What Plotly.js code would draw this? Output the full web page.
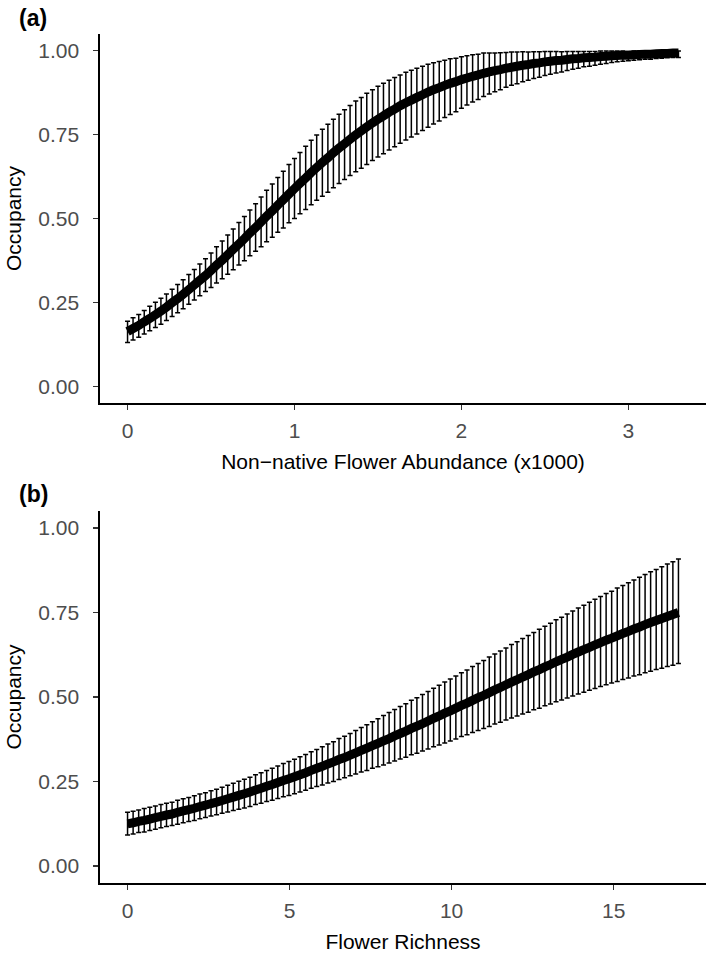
<!DOCTYPE html>
<html>
<head>
<meta charset="utf-8">
<script src="https://cdn.plot.ly/plotly-3.0.1.min.js"></script>
<style>
  html, body { margin: 0; padding: 0; background: #fff; }
  #plot { width: 709px; height: 958px; }
</style>
</head>
<body>
<div id="plot"></div>
<script>
// panel (a): occupancy vs non-native flower abundance (x1000)
var abundX = [0, 0.033, 0.067, 0.1, 0.133, 0.167, 0.2, 0.233, 0.267, 0.3,
  0.333, 0.367, 0.4, 0.433, 0.467, 0.5, 0.533, 0.567, 0.6, 0.633,
  0.667, 0.7, 0.733, 0.767, 0.8, 0.833, 0.867, 0.9, 0.933, 0.967,
  1, 1.033, 1.067, 1.1, 1.133, 1.167, 1.2, 1.233, 1.267, 1.3,
  1.333, 1.367, 1.4, 1.433, 1.467, 1.5, 1.533, 1.567, 1.6, 1.633,
  1.667, 1.7, 1.733, 1.767, 1.8, 1.833, 1.867, 1.9, 1.933, 1.967,
  2, 2.033, 2.067, 2.1, 2.133, 2.167, 2.2, 2.233, 2.267, 2.3,
  2.333, 2.367, 2.4, 2.433, 2.467, 2.5, 2.533, 2.567, 2.6, 2.633,
  2.667, 2.7, 2.733, 2.767, 2.8, 2.833, 2.867, 2.9, 2.933, 2.967,
  3, 3.033, 3.067, 3.1, 3.133, 3.167, 3.2, 3.233, 3.267, 3.3];

var abundMean = [0.163, 0.172, 0.181, 0.192, 0.202, 0.213, 0.224, 0.236, 0.249, 0.261,
  0.274, 0.288, 0.302, 0.316, 0.330, 0.345, 0.361, 0.376, 0.392, 0.408,
  0.424, 0.440, 0.457, 0.473, 0.490, 0.507, 0.523, 0.540, 0.556, 0.573,
  0.589, 0.605, 0.621, 0.637, 0.652, 0.667, 0.681, 0.696, 0.710, 0.723,
  0.736, 0.749, 0.761, 0.773, 0.785, 0.796, 0.806, 0.817, 0.826, 0.836,
  0.845, 0.853, 0.861, 0.869, 0.877, 0.884, 0.890, 0.897, 0.903, 0.908,
  0.914, 0.919, 0.924, 0.928, 0.933, 0.937, 0.941, 0.944, 0.948, 0.951,
  0.954, 0.957, 0.959, 0.962, 0.964, 0.967, 0.969, 0.971, 0.972, 0.974,
  0.976, 0.977, 0.979, 0.980, 0.981, 0.983, 0.984, 0.985, 0.986, 0.987,
  0.987, 0.988, 0.989, 0.990, 0.990, 0.991, 0.992, 0.992, 0.993, 0.993];

// distance from the line to the top / bottom of each error bar
var abundErrUp = [0.031, 0.032, 0.033, 0.034, 0.036, 0.037, 0.038, 0.039, 0.040, 0.042,
  0.043, 0.045, 0.046, 0.048, 0.050, 0.052, 0.055, 0.057, 0.059, 0.061,
  0.064, 0.066, 0.068, 0.071, 0.074, 0.077, 0.080, 0.082, 0.085, 0.088,
  0.090, 0.092, 0.094, 0.096, 0.097, 0.099, 0.100, 0.100, 0.101, 0.101,
  0.101, 0.101, 0.100, 0.100, 0.099, 0.098, 0.097, 0.095, 0.094, 0.092,
  0.091, 0.089, 0.087, 0.085, 0.083, 0.080, 0.078, 0.075, 0.073, 0.070,
  0.068, 0.066, 0.064, 0.062, 0.060, 0.056, 0.052, 0.050, 0.047, 0.045,
  0.042, 0.040, 0.037, 0.035, 0.033, 0.031, 0.029, 0.027, 0.025, 0.024,
  0.022, 0.021, 0.019, 0.018, 0.017, 0.016, 0.015, 0.014, 0.013, 0.012,
  0.011, 0.011, 0.010, 0.009, 0.009, 0.008, 0.008, 0.007, 0.007, 0.006];

var abundErrDown = [0.033, 0.034, 0.035, 0.036, 0.037, 0.038, 0.039, 0.040, 0.041, 0.042,
  0.043, 0.044, 0.045, 0.046, 0.048, 0.051, 0.053, 0.056, 0.058, 0.061,
  0.063, 0.066, 0.068, 0.071, 0.074, 0.076, 0.079, 0.081, 0.084, 0.086,
  0.089, 0.091, 0.094, 0.096, 0.098, 0.101, 0.103, 0.104, 0.106, 0.107,
  0.108, 0.110, 0.111, 0.112, 0.112, 0.113, 0.113, 0.113, 0.112, 0.112,
  0.111, 0.110, 0.109, 0.107, 0.105, 0.102, 0.099, 0.096, 0.093, 0.090,
  0.085, 0.081, 0.077, 0.073, 0.069, 0.066, 0.063, 0.060, 0.057, 0.054,
  0.052, 0.049, 0.047, 0.045, 0.043, 0.041, 0.039, 0.037, 0.035, 0.033,
  0.031, 0.029, 0.027, 0.026, 0.024, 0.023, 0.022, 0.020, 0.019, 0.018,
  0.017, 0.016, 0.016, 0.015, 0.015, 0.014, 0.014, 0.013, 0.013, 0.013];

// panel (b): occupancy vs flower richness
var richX = [0, 0.172, 0.343, 0.515, 0.687, 0.859, 1.030, 1.202, 1.374, 1.545,
  1.717, 1.889, 2.061, 2.232, 2.404, 2.576, 2.747, 2.919, 3.091, 3.263,
  3.434, 3.606, 3.778, 3.949, 4.121, 4.293, 4.465, 4.636, 4.808, 4.980,
  5.152, 5.323, 5.495, 5.667, 5.838, 6.010, 6.182, 6.354, 6.525, 6.697,
  6.869, 7.040, 7.212, 7.384, 7.556, 7.727, 7.899, 8.071, 8.242, 8.414,
  8.586, 8.758, 8.929, 9.101, 9.273, 9.444, 9.616, 9.788, 9.960, 10.131,
  10.303, 10.475, 10.646, 10.818, 10.990, 11.162, 11.333, 11.505, 11.677, 11.848,
  12.020, 12.192, 12.364, 12.535, 12.707, 12.879, 13.051, 13.222, 13.394, 13.566,
  13.737, 13.909, 14.081, 14.253, 14.424, 14.596, 14.768, 14.939, 15.111, 15.283,
  15.455, 15.626, 15.798, 15.970, 16.141, 16.313, 16.485, 16.657, 16.828, 17];

var richMean = [0.125, 0.128, 0.132, 0.135, 0.139, 0.143, 0.147, 0.151, 0.154, 0.159,
  0.163, 0.167, 0.171, 0.176, 0.180, 0.185, 0.189, 0.194, 0.199, 0.204,
  0.209, 0.214, 0.219, 0.225, 0.230, 0.236, 0.241, 0.247, 0.253, 0.258,
  0.264, 0.270, 0.276, 0.283, 0.289, 0.295, 0.302, 0.308, 0.315, 0.321,
  0.328, 0.335, 0.342, 0.349, 0.356, 0.363, 0.370, 0.377, 0.385, 0.392,
  0.399, 0.407, 0.414, 0.421, 0.429, 0.437, 0.444, 0.452, 0.459, 0.467,
  0.475, 0.482, 0.490, 0.498, 0.505, 0.513, 0.521, 0.528, 0.536, 0.544,
  0.551, 0.559, 0.566, 0.574, 0.581, 0.589, 0.596, 0.604, 0.611, 0.618,
  0.626, 0.633, 0.640, 0.647, 0.654, 0.661, 0.668, 0.674, 0.681, 0.688,
  0.694, 0.701, 0.707, 0.714, 0.720, 0.726, 0.732, 0.738, 0.744, 0.750];

var richErrUp = [0.034, 0.034, 0.034, 0.035, 0.035, 0.035, 0.035, 0.035, 0.035, 0.036,
  0.036, 0.036, 0.037, 0.037, 0.037, 0.038, 0.038, 0.039, 0.040, 0.041,
  0.042, 0.043, 0.044, 0.045, 0.046, 0.047, 0.048, 0.049, 0.050, 0.051,
  0.052, 0.053, 0.054, 0.055, 0.056, 0.058, 0.059, 0.060, 0.062, 0.063,
  0.064, 0.066, 0.068, 0.069, 0.071, 0.073, 0.075, 0.077, 0.078, 0.080,
  0.081, 0.083, 0.084, 0.086, 0.087, 0.089, 0.091, 0.092, 0.094, 0.095,
  0.097, 0.098, 0.100, 0.101, 0.103, 0.105, 0.106, 0.108, 0.109, 0.111,
  0.112, 0.114, 0.116, 0.117, 0.119, 0.120, 0.122, 0.124, 0.125, 0.127,
  0.128, 0.130, 0.131, 0.133, 0.135, 0.136, 0.138, 0.139, 0.141, 0.142,
  0.144, 0.145, 0.147, 0.148, 0.150, 0.151, 0.153, 0.155, 0.156, 0.158];

var richErrDown = [0.033, 0.033, 0.033, 0.034, 0.034, 0.034, 0.034, 0.034, 0.034, 0.035,
  0.035, 0.035, 0.036, 0.036, 0.036, 0.037, 0.037, 0.038, 0.039, 0.040,
  0.041, 0.042, 0.043, 0.043, 0.044, 0.045, 0.046, 0.047, 0.048, 0.049,
  0.050, 0.051, 0.052, 0.053, 0.054, 0.055, 0.056, 0.058, 0.059, 0.060,
  0.061, 0.063, 0.064, 0.066, 0.067, 0.069, 0.071, 0.072, 0.074, 0.075,
  0.077, 0.078, 0.080, 0.081, 0.083, 0.084, 0.086, 0.088, 0.089, 0.091,
  0.092, 0.094, 0.095, 0.097, 0.098, 0.100, 0.101, 0.103, 0.104, 0.106,
  0.107, 0.109, 0.111, 0.112, 0.114, 0.115, 0.117, 0.118, 0.120, 0.121,
  0.123, 0.124, 0.126, 0.127, 0.129, 0.130, 0.132, 0.133, 0.135, 0.136,
  0.138, 0.139, 0.141, 0.142, 0.144, 0.145, 0.147, 0.148, 0.150, 0.151];

var occTicks = [0, 0.25, 0.5, 0.75, 1];
var occLabels = ['0.00', '0.25', '0.50', '0.75', '1.00'];
var abundTicks = [0, 1, 2, 3];
var richTicks = [0, 5, 10, 15];

var FONT = '"Liberation Sans", Arial, Helvetica, sans-serif';

function curve(x, y, up, down, xa, ya) {
  return {
    x: x, y: y, xaxis: xa, yaxis: ya,
    type: 'scatter', mode: 'lines',
    line: { color: '#000', width: 9, simplify: false },
    error_y: {
      type: 'data', symmetric: false,
      array: up, arrayminus: down,
      color: '#000', thickness: 1.5, width: 2.5
    },
    hoverinfo: 'skip'
  };
}

function xAxis(range, ticks, title, anchor) {
  return {
    range: range, tickvals: ticks, anchor: anchor,
    showline: true, linecolor: '#000', linewidth: 1.6,
    ticks: 'outside', ticklen: 5, tickwidth: 1.3, tickcolor: '#333',
    showgrid: false, zeroline: false,
    tickfont: { family: FONT, size: 21, color: '#4d4d4d' },
    ticklabelstandoff: 3,
    title: { text: title, font: { family: FONT, size: 21, color: '#000' }, standoff: 13 }
  };
}

function yAxis(domain, anchor) {
  return {
    range: [-0.05, 1.05], domain: domain, anchor: anchor,
    tickvals: occTicks, ticktext: occLabels,
    showline: true, linecolor: '#000', linewidth: 1.6,
    ticks: 'outside', ticklen: 5, tickwidth: 1.3, tickcolor: '#333',
    showgrid: false, zeroline: false,
    tickfont: { family: FONT, size: 21, color: '#4d4d4d' },
    ticklabelstandoff: 10,
    title: { text: 'Occupancy', font: { family: FONT, size: 21, color: '#000' }, standoff: 11 }
  };
}

var data = [
  curve(abundX, abundMean, abundErrUp, abundErrDown, 'x', 'y'),
  curve(richX, richMean, richErrUp, richErrDown, 'x2', 'y2')
];

var layout = {
  width: 709, height: 958,
  margin: { l: 100, r: 3, t: 34, b: 75 },
  paper_bgcolor: '#fff', plot_bgcolor: '#fff',
  showlegend: false,
  xaxis: xAxis([-0.165, 3.465], abundTicks, 'Non\u2212native Flower Abundance (x1000)', 'y'),
  yaxis: yAxis([0.5654, 1], 'x'),
  xaxis2: xAxis([-0.85, 17.85], richTicks, 'Flower Richness', 'y2'),
  yaxis2: yAxis([0, 0.4382], 'x2'),
  annotations: [
    { text: '<b>(a)</b>', xref: 'paper', yref: 'paper', x: -0.137, y: 1.0188,
      xanchor: 'left', yanchor: 'middle', showarrow: false,
      font: { family: FONT, size: 23, color: '#000' } },
    { text: '<b>(b)</b>', xref: 'paper', yref: 'paper', x: -0.137, y: 0.4582,
      xanchor: 'left', yanchor: 'middle', showarrow: false,
      font: { family: FONT, size: 23, color: '#000' } }
  ]
};

Plotly.newPlot('plot', data, layout, { displayModeBar: false, staticPlot: true });
</script>
</body>
</html>
